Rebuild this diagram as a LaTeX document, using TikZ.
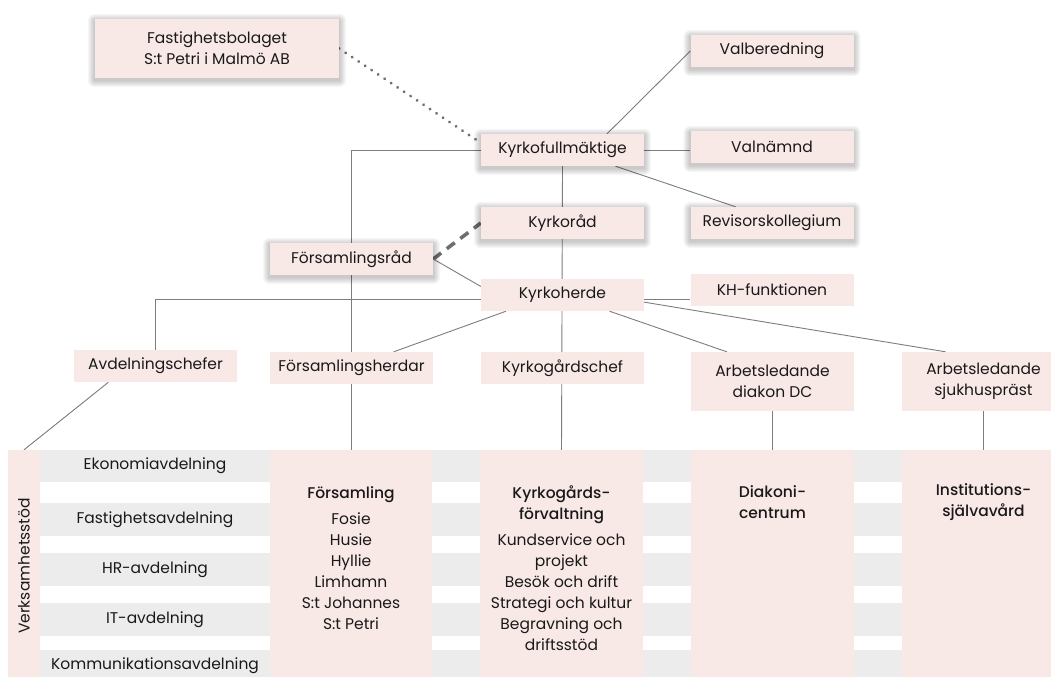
\documentclass[tikz,border=0pt]{standalone}
\usepackage{fontspec}
\setmainfont{Poppins}[BoldFont={Poppins Medium}]
\usetikzlibrary{decorations.markings}
\definecolor{boxpink}{RGB}{249,233,230}
\definecolor{stripegray}{RGB}{236,236,236}
\definecolor{linegray}{RGB}{125,125,125}
\definecolor{dotgray}{RGB}{110,110,110}
\definecolor{ink}{RGB}{25,25,25}
\pgfdeclarelayer{back}
\pgfdeclarelayer{shadow}
\pgfdeclarelayer{bg}
\pgfsetlayers{back,bg,shadow,main}
\begin{document}
\begin{tikzpicture}[x=1pt,y=-1pt,
  box/.style={fill=boxpink, inner sep=0pt, minimum width=163pt, minimum height=32pt,
    align=center, text=ink, font=\fontsize{15.5}{21}\selectfont},
  colbox/.style={fill=boxpink, inner sep=0pt, minimum width=163pt, minimum height=227pt},
  coltext/.style={align=center, text=ink, inner sep=0pt, font=\fontsize{15.5}{21}\selectfont},
  conn/.style={draw=linegray, line width=0.9pt},
  dotline/.style={decoration={markings,
      mark=between positions 0 and 1 step 7.8pt with {\fill[dotgray] (0,0) circle (1.6pt);}},
    decorate},
  dashline/.style={draw=dotgray, line width=3.6pt, dash pattern=on 10pt off 7pt},
  softshade/.style={fill=black, fill opacity=0.032},
]
\useasboundingbox (0,0) rectangle (1051,677);
\begin{pgfonlayer}{back}
\fill[white] (0,0) rectangle (1051,677);
\end{pgfonlayer}
\begin{scope}
\clip (0,0) rectangle (1051,677);

% stripes of the lower table
\fill[stripegray] (40,450) rectangle (1051,482);
\fill[stripegray] (40,503) rectangle (1051,536);
\fill[stripegray] (40,553) rectangle (1051,586);
\fill[stripegray] (40,603) rectangle (1051,636);
\fill[stripegray] (40,650) rectangle (1051,677);

% columns
\node[colbox, minimum width=32pt] (vs) at (24,563.5) {};
\node[coltext, rotate=90] (vstext) at (24,566) {Verksamhetsstöd};
\node[colbox, minimum width=162pt] (fcol) at (351,563.5) {};
\node[colbox] (kcol) at (561.5,563.5) {};
\node[colbox] (dcol) at (772.5,563.5) {};
\node[colbox] (icol) at (983.5,563.5) {};

\node[coltext] (eko) at (155,466) {Ekonomiavdelning};
\node[coltext] (fast) at (155,520) {Fastighetsavdelning};
\node[coltext] (hr) at (155,570) {HR-avdelning};
\node[coltext] (it) at (155,620) {IT-avdelning};
\node[coltext] (komm) at (155,666) {Kommunikationsavdelning};

\node[coltext] (fctext) at (351,558) {\textbf{Församling}\\[5pt]Fosie\\Husie\\Hyllie\\Limhamn\\S:t Johannes\\S:t Petri};
\node[coltext] (kctext) at (561.5,568.5) {\textbf{Kyrkogårds-}\\\textbf{förvaltning}\\[5pt]Kundservice och\\projekt\\Besök och drift\\Strategi och kultur\\Begravning och\\driftsstöd};
\node[coltext] (dctext) at (772.5,502.5) {\textbf{Diakoni-}\\\textbf{centrum}};
\node[coltext] (ictext) at (983.5,502.5) {\textbf{Institutions-}\\\textbf{självavård}};

% upper boxes
\node[box, minimum width=244pt, minimum height=59pt] (fb) at (217,48.5) {Fastighetsbolaget\\S:t Petri i Malmö AB};
\node[box] (vb) at (772,51) {Valberedning};
\node[box] (kf) at (562.5,150) {Kyrkofullmäktige};
\node[box] (vn) at (772,147) {Valnämnd};
\node[box] (kr) at (562.5,223) {Kyrkoråd};
\node[box] (rk) at (772,223) {Revisorskollegium};
\node[box] (fr) at (351.5,259) {Församlingsråd};
\node[box] (kh) at (562.5,295) {Kyrkoherde};
\node[box] (khf) at (772,290) {KH-funktionen};
\node[box] (ac) at (155.5,366) {Avdelningschefer};
\node[box] (fh) at (351.5,368) {Församlingsherdar};
\node[box] (kgc) at (562.5,368) {Kyrkogårdschef};
\node[box, minimum height=59pt] (adc) at (772.5,381.5) {Arbetsledande\\diakon DC};
\node[box, minimum height=59pt] (asp) at (983.5,381.5) {Arbetsledande\\sjukhuspräst};
\end{scope}

% soft shadows behind the upper boxes
\begin{pgfonlayer}{shadow}
\foreach \n in {fb,vb,kf,vn,kr,rk,fr} {
  \foreach \s in {1,...,7} {
    \fill[softshade, rounded corners=\s pt]
      ([xshift=-\s pt, yshift=\s pt-2pt]\n.north west) rectangle
      ([xshift=\s pt, yshift=-\s pt-2pt]\n.south east);
  }
}
\end{pgfonlayer}

\begin{pgfonlayer}{bg}
\path[dotline] (fb.east) -- (kf.175);
\draw[conn] (kf.west) -| (fcol.north);
\draw[conn] (kf.20.6) -- (vb.west);
\draw[conn] (kf.east) -- (kf.east -| vn.west);
\draw[conn] (kf.-17) -- (rk.156);
\draw[conn] (kf.south) -- (kcol.north);
\draw[dashline] (fr.east) -- (kr.west);
\draw[conn] (fr.east) -- (kh.174);
\draw[conn] (kh.183) -| (ac.north);
\draw[conn] (kh.-3) -- (kh.-3 -| khf.west);
\draw[conn] (kh.-5.6) -- (asp.142.5);
\draw[conn] (kh.-19.8) -- (adc.147);
\draw[conn] (kh.196.6) -- (fh.21.1);
\draw[conn] (ac.199.4) -- (vs.north);
\draw[conn] (adc.south) -- (dcol.north);
\draw[conn] (asp.south) -- (icol.north);
\end{pgfonlayer}
\end{tikzpicture}
\end{document}
